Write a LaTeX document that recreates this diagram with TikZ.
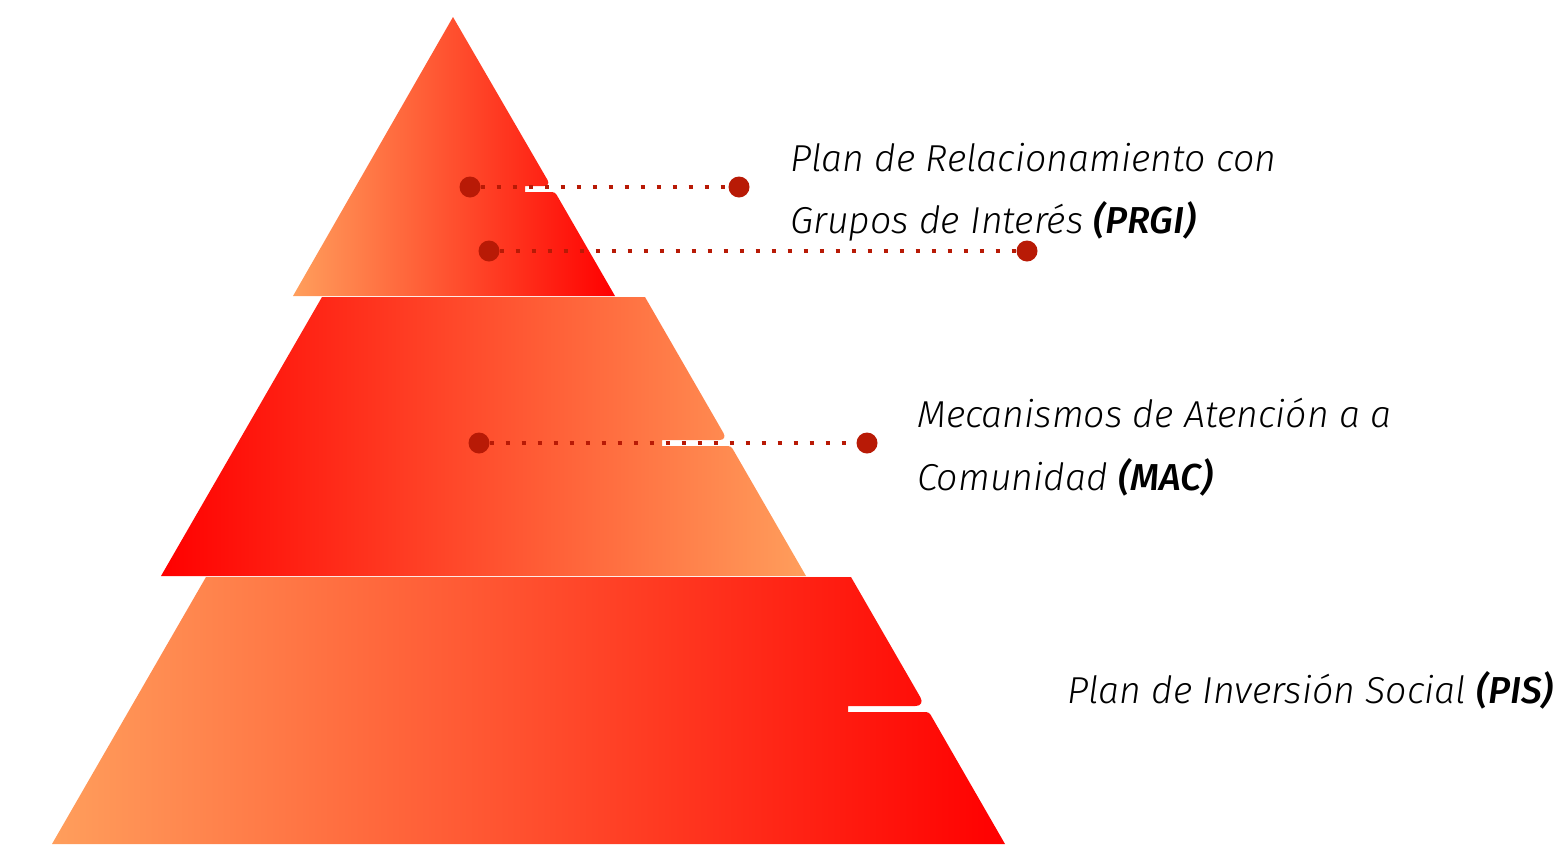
\documentclass[tikz,border=0pt]{standalone}
\usepackage{fontspec}
\setmainfont{Fira Sans}[UprightFont=* Light, ItalicFont=* Light Italic, BoldFont=* Medium, BoldItalicFont=* Medium Italic]
\usetikzlibrary{positioning}
\definecolor{pyrorange}{RGB}{255,158,92}
\definecolor{pyrred}{RGB}{255,0,0}
\definecolor{dotred}{RGB}{184,26,6}

\begin{document}
\begin{tikzpicture}[
    x=1pt, y=-1pt,
    % Styles
    dot/.style={circle, fill=dotred, minimum size=21pt, inner sep=0pt},
    link/.style={dotred, line width=4pt, dash pattern=on 4pt off 12pt},
    caption/.style={anchor=base west, inner sep=0pt, font=\fontsize{37.5}{46}\selectfont\itshape}
]

    \useasboundingbox (0,0) rectangle (1564,844);

    % --- TOP LEVEL ---
    \shade[left color=pyrorange, right color=pyrred]
        (453,17) [rounded corners=7pt] -- (551,186) [sharp corners] -- (525,186) -- (525,192)
        [rounded corners=3pt] -- (555,192) [sharp corners] -- (615,296) -- (293,296) -- cycle;

    % --- MIDDLE LEVEL ---
    \shade[left color=pyrred, right color=pyrorange]
        (322,297) -- (645,297) [rounded corners=8pt] -- (727.5,440) [sharp corners] -- (662,440) -- (662,446)
        [rounded corners=3pt] -- (731,446) [sharp corners] -- (806,576) -- (161,576) -- cycle;

    % --- BOTTOM LEVEL ---
    \shade[left color=pyrorange, right color=pyrred]
        (206,577) -- (851,577) [rounded corners=10pt] -- (925.4,706) [sharp corners] -- (848,706) -- (848,712)
        [rounded corners=3pt] -- (929,712) [sharp corners] -- (1005,844) -- (52,844) -- cycle;

    % --- DOTS ---
    \node[dot] (prgiA) at (470,187) {};
    \node[dot] (prgiB) at (739,187) {};
    \node[dot] (prgiC) at (489,251) {};
    \node[dot] (prgiD) at (1027,251) {};
    \node[dot] (macA) at (479,443) {};
    \node[dot] (macB) at (867,443) {};

    \draw[link] (prgiA) -- (prgiB);
    \draw[link] (prgiC) -- (prgiD);
    \draw[link] (macA) -- (macB);

    % --- LABELS ---
    \node[caption] (prgi1) at (790,171) {Plan de Relacionamiento con};
    \node[caption] (prgi2) at (790,233) {Grupos de Interés \textbf{(PRGI)}};
    \node[caption] (mac1) at (917,427) {Mecanismos de Atención a a};
    \node[caption] (mac2) at (917,490) {Comunidad \textbf{(MAC)}};
    \node[caption] (pis) at (1067,703) {Plan de Inversión Social \textbf{(PIS)}};

\end{tikzpicture}
\end{document}
